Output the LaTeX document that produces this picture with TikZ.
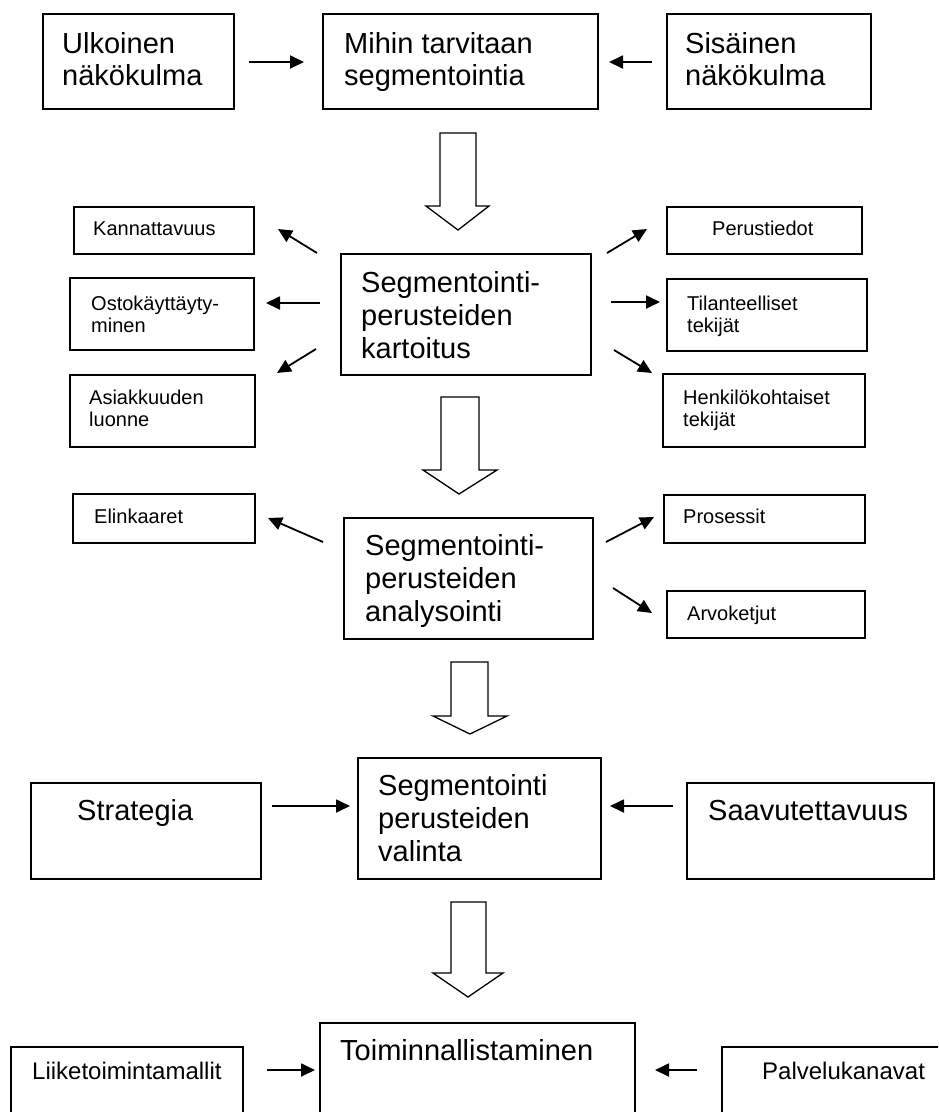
\documentclass[tikz,border=0pt]{standalone}
\usepackage{fontspec}
\setmainfont{Liberation Sans}
\usetikzlibrary{arrows.meta}
\begin{document}
\begin{tikzpicture}[x=1pt,y=-1pt,
  box/.style={draw, line width=1.8pt, inner sep=0pt, anchor=north west},
  % multi-line labels are placed by the baseline of their last line
  big/.style={font=\fontsize{29}{33}\selectfont, align=left, inner sep=0pt, anchor=base west},
  small/.style={font=\fontsize{20}{22}\selectfont, align=left, inner sep=0pt, anchor=base west},
  mid/.style={font=\fontsize{24}{28}\selectfont, inner sep=0pt, anchor=base west},
  link/.style={line width=1.8pt, -{Triangle[length=14pt,width=13pt]}},
  hollow/.style={draw, line width=1.3pt, fill=white, line join=miter}]

\clip (0,0) rectangle (938,1112);
\fill[white] (0,0) rectangle (938,1112);

% ---------- top row ----------
\node[box, minimum width=191pt, minimum height=95pt] (ulk) at (42,13) {};
\node[box, minimum width=275pt, minimum height=95pt] (mihin) at (322,13) {};
\node[box, minimum width=204pt, minimum height=95pt] (sis) at (666,13) {};
\node[big, font=\fontsize{29}{32}\selectfont] (tulk) at (62,85) {Ulkoinen\\näkökulma};
\node[big, font=\fontsize{29}{32}\selectfont] (tmihin) at (344,85) {Mihin tarvitaan\\segmentointia};
\node[big, font=\fontsize{29}{32}\selectfont] (tsis) at (685,85) {Sisäinen\\näkökulma};
\coordinate (a1s) at (249,62); \coordinate (a1e) at (304,62);
\coordinate (a2s) at (652,62); \coordinate (a2e) at (609,62);
\draw[link] (a1s) -- (a1e);
\draw[link] (a2s) -- (a2e);

% block arrow 1
\draw[hollow] (440,133) -- (476,133) -- (476,206) -- (489,206) -- (458,230)
  -- (426,206) -- (440,206) -- cycle;

% ---------- kartoitus ----------
\node[box, minimum width=250pt, minimum height=121pt] (kart) at (340,253) {};
\node[big] (tkart) at (361,358) {Segmentointi-\\perusteiden\\kartoitus};

\node[box, minimum width=180pt, minimum height=47pt] (kann) at (73,206) {};
\node[box, minimum width=184pt, minimum height=72pt] (osto) at (69,277) {};
\node[box, minimum width=185pt, minimum height=72pt] (asia) at (69,374) {};
\node[box, minimum width=195pt, minimum height=47pt] (peru) at (666,206) {};
\node[box, minimum width=200pt, minimum height=72pt] (tila) at (666,278) {};
\node[box, minimum width=202pt, minimum height=73pt] (henk) at (662,373) {};

\node[small] (tkann) at (93,235) {Kannattavuus};
\node[small] (tosto) at (91,332) {Ostokäyttäyty-\\minen};
\node[small] (tasia) at (89,426) {Asiakkuuden\\luonne};
\node[small] (tperu) at (712,235) {Perustiedot};
\node[small] (ttila) at (687,332) {Tilanteelliset\\tekijät};
\node[small] (thenk) at (683,426) {Henkilökohtaiset\\tekijät};

\coordinate (b1s) at (317,253); \coordinate (b1e) at (278,229);
\coordinate (b2s) at (320,303); \coordinate (b2e) at (266,303);
\coordinate (b3s) at (316,349); \coordinate (b3e) at (277,373);
\coordinate (b4s) at (607,253); \coordinate (b4e) at (647,229);
\coordinate (b5s) at (611,302); \coordinate (b5e) at (660,302);
\coordinate (b6s) at (614,350); \coordinate (b6e) at (652,373);
\foreach \n in {1,...,6} \draw[link] (b\n s) -- (b\n e);

% block arrow 2
\draw[hollow] (441,397) -- (479,397) -- (479,470) -- (497,470) -- (459,494)
  -- (423,470) -- (441,470) -- cycle;

% ---------- analysointi ----------
\node[box, minimum width=249pt, minimum height=121pt] (anal) at (343,517) {};
\node[big] (tanal) at (365,621) {Segmentointi-\\perusteiden\\analysointi};

\node[box, minimum width=182pt, minimum height=49pt] (elin) at (72,493) {};
\node[box, minimum width=201pt, minimum height=48pt] (pros) at (663,494) {};
\node[box, minimum width=198pt, minimum height=47pt] (arvo) at (666,590) {};
\node[small] (telin) at (94,523) {Elinkaaret};
\node[small] (tpros) at (683,523) {Prosessit};
\node[small] (tarvo) at (687,620) {Arvoketjut};

\coordinate (c1s) at (323,542); \coordinate (c1e) at (268,518);
\coordinate (c2s) at (606,542); \coordinate (c2e) at (654,517);
\coordinate (c3s) at (613,588); \coordinate (c3e) at (652,613);
\foreach \n in {1,2,3} \draw[link] (c\n s) -- (c\n e);

% block arrow 3
\draw[hollow] (451,662) -- (488,662) -- (488,716) -- (507,716) -- (470,734)
  -- (433,716) -- (451,716) -- cycle;

% ---------- valinta ----------
\node[box, minimum width=243pt, minimum height=121pt] (vali) at (357,757) {};
\node[box, minimum width=230pt, minimum height=96pt] (stra) at (30,782) {};
\node[box, minimum width=247pt, minimum height=96pt] (saav) at (686,782) {};
\node[big] (tvali) at (378,861) {Segmentointi\\perusteiden\\valinta};
\node[big] (tstra) at (77,820) {Strategia};
\node[big] (tsaav) at (708,820) {Saavutettavuus};
\coordinate (d1s) at (272,806); \coordinate (d1e) at (350,806);
\coordinate (d2s) at (673,806); \coordinate (d2e) at (610,806);
\draw[link] (d1s) -- (d1e);
\draw[link] (d2s) -- (d2e);

% block arrow 4
\draw[hollow] (451,902) -- (486,902) -- (486,973) -- (503,973) -- (468,997)
  -- (433,973) -- (451,973) -- cycle;

% ---------- toiminnallistaminen ----------
\node[box, minimum width=315pt, minimum height=110pt] (toim) at (319,1022) {};
\node[box, minimum width=232pt, minimum height=90pt] (liik) at (10,1046) {};
\node[box, minimum width=224pt, minimum height=90pt] (palv) at (721,1046) {};
\node[big] (ttoim) at (340,1060) {Toiminnallistaminen};
\node[mid] (tliik) at (32,1079) {Liiketoimintamallit};
\node[mid] (tpalv) at (762,1079) {Palvelukanavat};
\coordinate (e1s) at (267,1070); \coordinate (e1e) at (315,1070);
\coordinate (e2s) at (697,1070); \coordinate (e2e) at (655,1070);
\draw[link] (e1s) -- (e1e);
\draw[link] (e2s) -- (e2e);
\end{tikzpicture}
\end{document}
